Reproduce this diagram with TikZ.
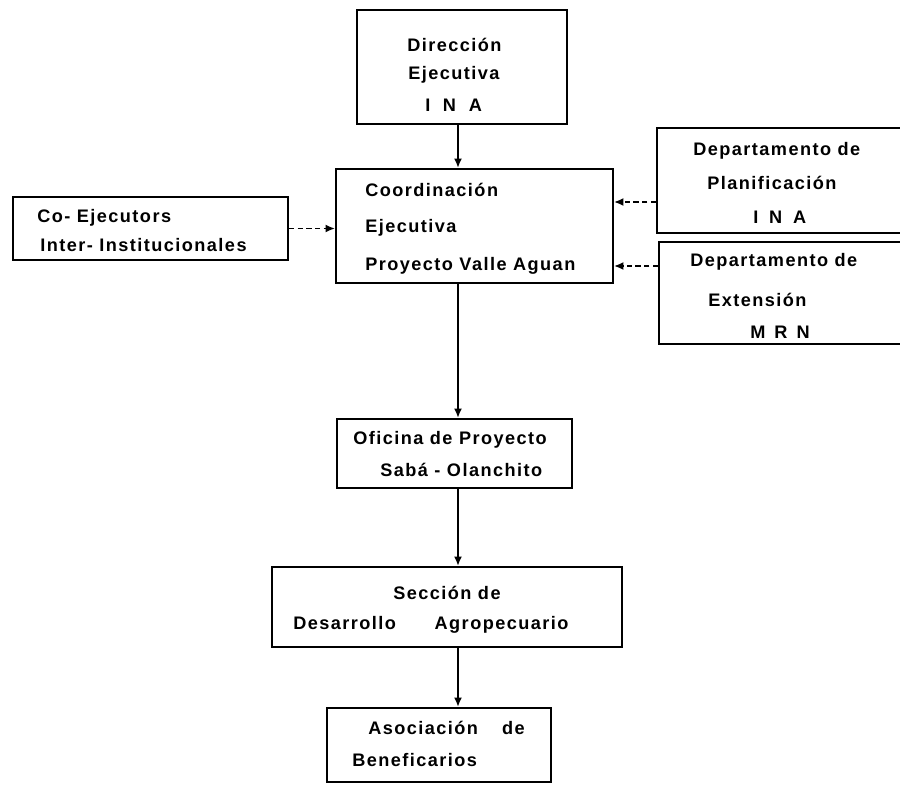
\documentclass[tikz,border=0pt]{standalone}
\usepackage{fontspec}
\setmainfont{Liberation Sans}[LetterSpace=8]
\usetikzlibrary{fit,arrows.meta}
\begin{document}
\begin{tikzpicture}[x=0.75pt,y=-0.75pt,
  caja/.style={draw,line width=1.6pt,inner sep=0pt},
  texto/.style={anchor=west,inner sep=0pt,font=\fontsize{13.6}{15}\selectfont\bfseries},
  flecha/.style={line width=1.5pt,-{Latex[length=7pt,width=6pt]}},
  punteada/.style={flecha,line width=1.2pt,dash pattern=on 4pt off 2.5pt}]
  \useasboundingbox (0,0) rectangle (900,785);
  \clip (0,0) rectangle (900,785);

  \node[caja,fit={(357,10) (567,124)}] (dir) {};
  \node[texto] (dir-1) at (407,45) {Dirección};
  \node[texto] (dir-2) at (408,75) {Ejecutiva};
  \node[texto] (dir-3) at (425,105) {I\hspace{0.7em}N\hspace{0.7em}A};

  \node[caja,fit={(336,169) (613,283)}] (coord) {};
  \node[texto] (coord-1) at (365,190) {Coordinación};
  \node[texto] (coord-2) at (365,228) {Ejecutiva};
  \node[texto] (coord-3) at (365,266) {Proyecto Valle Aguan};

  \node[caja,fit={(13,197) (288,260)}] (coej) {};
  \node[texto] (coej-1) at (37,218) {Co- Ejecutors};
  \node[texto] (coej-2) at (40,245) {Inter- Institucionales};

  \node[caja,fit={(657,128) (915,233)}] (planif) {};
  \node[texto] (planif-1) at (693,151) {Departamento de};
  \node[texto] (planif-2) at (707,183) {Planificación};
  \node[texto] (planif-3) at (753,217) {I\hspace{0.6em}N\hspace{0.6em}A};

  \node[caja,fit={(659,242) (915,344)}] (ext) {};
  \node[texto] (ext-1) at (690,262) {Departamento de};
  \node[texto] (ext-2) at (708,300) {Extensión};
  \node[texto] (ext-3) at (750,332) {M\hspace{0.5em}R\hspace{0.5em}N};

  \node[caja,fit={(337,419) (572,488)}] (ofic) {};
  \node[texto] (ofic-1) at (353,440) {Oficina de Proyecto};
  \node[texto] (ofic-2) at (380,470) {Sabá - Olanchito};

  \node[caja,fit={(272,567) (622,647)}] (secc) {};
  \node[texto] (secc-1) at (393,593) {Sección de};
  \node[texto] (secc-2) at (293,625) {Desarrollo\hspace{29pt}Agropecuario};

  \node[caja,fit={(327,708) (551,782)}] (asoc) {};
  \node[texto] (asoc-1) at (368,728) {Asociación\hspace{18pt}de};
  \node[texto] (asoc-2) at (352,760) {Beneficarios};

  \coordinate (eje) at (458,0);
  \coordinate (yplan) at (0,202);
  \coordinate (yext) at (0,266);

  \draw[flecha] (dir.south -| eje) -- (coord.north -| eje);
  \draw[flecha] (coord.south -| eje) -- (ofic.north -| eje);
  \draw[flecha] (ofic.south -| eje) -- (secc.north -| eje);
  \draw[flecha] (secc.south -| eje) -- (asoc.north -| eje);

  \draw[punteada] (coej.east) -- (coej.east -| coord.west);
  \draw[punteada] (planif.west |- yplan) -- (coord.east |- yplan);
  \draw[punteada] (ext.west |- yext) -- (coord.east |- yext);
\end{tikzpicture}
\end{document}
